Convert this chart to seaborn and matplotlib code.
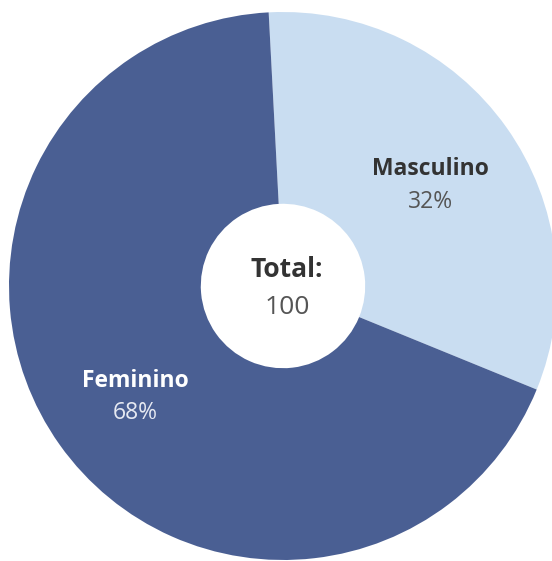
import numpy as np
import matplotlib
matplotlib.use("Agg")
import matplotlib.pyplot as plt
import seaborn as sns

# Dados
categorias = ["Masculino", "Feminino"]
percentuais = [32, 68]
total = 100

sns.set_theme(style="white")
plt.rcParams["font.family"] = ["Open Sans", "DejaVu Sans"]

cores = sns.color_palette(["#c9ddf1", "#4a5f93"])
cor_nome = ["#333333", "#ffffff"]
cor_pct = ["#555555", "#e6e9f2"]

fig = plt.figure(figsize=(5.52, 5.61), dpi=100)
ax = fig.add_axes([0, 0, 1, 1])

start = 93
wedges, _ = ax.pie(percentuais, colors=cores, startangle=start, counterclock=False,
                   radius=1, wedgeprops=dict(width=0.70, linewidth=0))

# rótulos dentro das fatias
ang = start
for nome, pct, cn, cp in zip(categorias, percentuais, cor_nome, cor_pct):
    meio = np.deg2rad(ang - pct * 3.6 / 2)
    ang -= pct * 3.6
    x, y = 0.66 * np.cos(meio), 0.665 * np.sin(meio) - 0.02
    ax.text(x, y + 0.06, nome, ha="center", va="center", fontsize=16.5,
            fontweight="bold", color=cn)
    ax.text(x, y - 0.06, f"{pct}%", ha="center", va="center", fontsize=16.5,
            color=cp)

ax.text(0.015, 0.06, "Total:", ha="center", va="center", fontsize=19,
        fontweight="bold", color="#333333")
ax.text(0.015, -0.08, str(total), ha="center", va="center", fontsize=19,
        color="#555555")

ax.set_xlim(-283 / 274, 269 / 274)
ax.set_ylim(-275 / 274, 286 / 274)
ax.set_aspect("auto")
ax.axis("off")

fig.savefig("out.png", dpi=100, facecolor="white")
